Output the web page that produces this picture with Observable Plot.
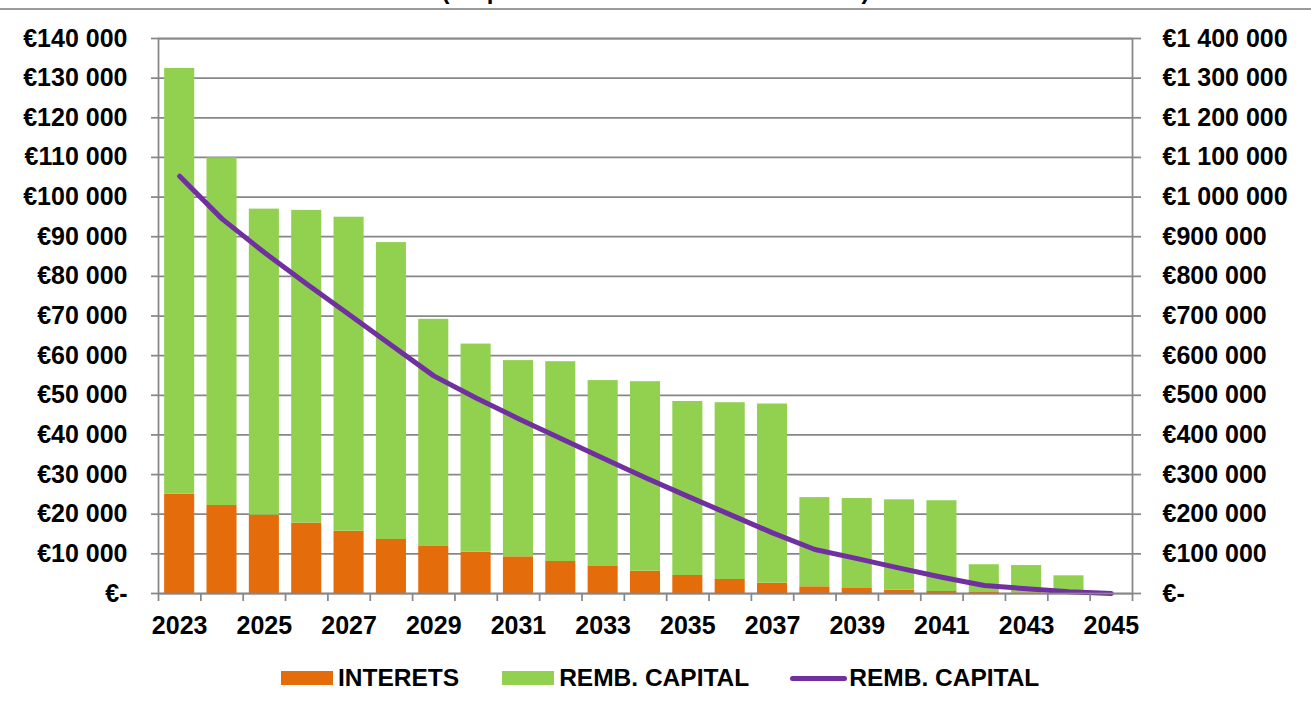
<!DOCTYPE html>
<html>
<head>
<meta charset="utf-8">
<script src="https://cdn.jsdelivr.net/npm/d3@7"></script>
<script src="https://cdn.jsdelivr.net/npm/@observablehq/plot@0.6"></script>
<style>
  body { margin: 0; background: #fff; font-family: "Liberation Sans", Arial, sans-serif; }
  #wrap { position: relative; width: 1311px; height: 709px; overflow: hidden; background: #fff; }
  #title { position: absolute; left: 0; top: -21px; width: 1311px; text-align: center; font-weight: bold; font-size: 24px; line-height: 24px; color: #000; white-space: nowrap; }
  #topline { position: absolute; left: 0; top: 8px; width: 1311px; height: 2px; background: #9a9a9a; }
  #chart { position: absolute; left: 0; top: 0; }
  #legend { position: absolute; left: 0; top: 660px; height: 36px; display: flex; align-items: center; padding-left: 281px; font-weight: bold; font-size: 24.5px; color: #000; white-space: nowrap; }
  .item { display: flex; align-items: center; }
  .sw { width: 52px; height: 14px; margin-right: 5px; }
  .ln { width: 57px; height: 5px; border-radius: 3px; margin-right: 2px; }
</style>
</head>
<body>
<div id="wrap">
  <div id="chart"></div>
  <div id="topline"></div>
  <div id="title">(Emprunt : échéancier sur 23 années)</div>
  <div id="legend"></div>
</div>
<script>
// ---- data ----
const years = ["2023","2024","2025","2026","2027","2028","2029","2030","2031","2032","2033","2034",
               "2035","2036","2037","2038","2039","2040","2041","2042","2043","2044","2045"];
const interets = [25050, 22200, 19760, 17740, 15720, 13620, 11860, 10420, 9250, 8070, 6810, 5630,
                  4540, 3530, 2600, 1690, 1260, 830, 500, 250, 150, 60, 0];
const rembCapital = [107400, 87700, 77200, 78900, 79200, 74900, 57300, 52500, 49500, 50400, 46900, 47800,
                     43900, 44600, 45200, 22500, 22700, 22800, 22900, 7000, 6900, 4400, 0];
const capitalRestant = [1052600, 945000, 860000, 781000, 704000, 626000, 549000, 493000, 441000, 391000, 341000, 292000,
                        245000, 199000, 153000, 111000, 88000, 64000, 41000, 20000, 12000, 4500, 0];
const leftTicks = [0, 10000, 20000, 30000, 40000, 50000, 60000, 70000, 80000, 90000, 100000, 110000, 120000, 130000, 140000];
const rightTicks = [0, 100000, 200000, 300000, 400000, 500000, 600000, 700000, 800000, 900000, 1000000, 1100000, 1200000, 1300000, 1400000];
const xLabels = ["2023","2025","2027","2029","2031","2033","2035","2037","2039","2041","2043","2045"];
const seriesNames = ["INTERETS", "REMB. CAPITAL", "REMB. CAPITAL"];
const seriesColors = ["#E46C0A", "#92D050", "#7030A0"];

// ---- build ----
const ratio = rightTicks[rightTicks.length - 1] / leftTicks[leftTicks.length - 1];
const long = years.flatMap((y, i) => [
  {year: y, series: seriesNames[0], value: interets[i]},
  {year: y, series: "REMB. CAPITAL (barres)", value: rembCapital[i]}
]);
const lineData = years.map((y, i) => ({year: y, capital: capitalRestant[i]}));

const sp = "\u00A0";
const fmt = v => v === 0 ? "€-" : "€" + d3.format(",")(v).replace(/,/g, sp);

const W = 1311, H = 660, mL = 158, mR = 179, mT = 38, mB = 67;
const pInner = 0.29, pOuter = 0.145;
const step = (W - mL - mR) / (years.length - pInner + 2 * pOuter);
const grid = "#878787";

const chart = Plot.plot({
  width: W, height: H,
  marginLeft: mL, marginRight: mR, marginTop: mT, marginBottom: mB,
  style: {fontFamily: '"Liberation Sans", Arial, sans-serif', fontSize: "25px", fontWeight: "bold", color: "#000", background: "transparent", overflow: "visible"},
  x: {domain: years, paddingInner: pInner, paddingOuter: pOuter, round: false, axis: null},
  y: {domain: [0, leftTicks[leftTicks.length - 1]], axis: null},
  color: {domain: [seriesNames[0], "REMB. CAPITAL (barres)"], range: [seriesColors[0], seriesColors[1]]},
  marks: [
    Plot.ruleY(leftTicks, {stroke: grid, strokeWidth: 1.75}),
    Plot.barY(long, {x: "year", y: "value", fill: "series", order: [seriesNames[0], "REMB. CAPITAL (barres)"]}),
    Plot.lineY(lineData, {x: "year", y: d => d.capital / ratio, stroke: seriesColors[2], strokeWidth: 5, strokeLinecap: "round", strokeLinejoin: "round"}),
    Plot.frame({stroke: grid, strokeWidth: 1.75}),
    Plot.axisY({ticks: leftTicks, tickFormat: fmt, anchor: "left", tickSize: 7, tickPadding: 24, stroke: grid, strokeWidth: 1.75, fill: "#000", label: null}),
    Plot.axisY({ticks: rightTicks.map(v => v / ratio), tickFormat: v => fmt(Math.round(v * ratio)), anchor: "right", tickSize: 8, tickPadding: 22, stroke: grid, strokeWidth: 1.75, fill: "#000", label: null}),
    Plot.axisX({ticks: years, tickFormat: () => "", tickSize: 8, dx: -step / 2, stroke: grid, strokeWidth: 1.75, label: null}),
    Plot.axisX({ticks: [years[years.length - 1]], tickFormat: () => "", tickSize: 8, dx: step / 2, stroke: grid, strokeWidth: 1.75, label: null}),
    Plot.axisX({ticks: xLabels, tickSize: 0, tickPadding: 23, fill: "#000", label: null})
  ]
});
document.getElementById("chart").appendChild(chart);

// ---- legend ----
const legend = document.getElementById("legend");
const gaps = [43, 41, 0];
seriesNames.forEach((name, i) => {
  const it = document.createElement("div");
  it.className = "item";
  it.style.marginRight = gaps[i] + "px";
  const sw = document.createElement("div");
  sw.className = i === 2 ? "ln" : "sw";
  sw.style.background = seriesColors[i];
  const tx = document.createElement("span");
  tx.textContent = name;
  it.appendChild(sw); it.appendChild(tx);
  legend.appendChild(it);
});
</script>
</body>
</html>
